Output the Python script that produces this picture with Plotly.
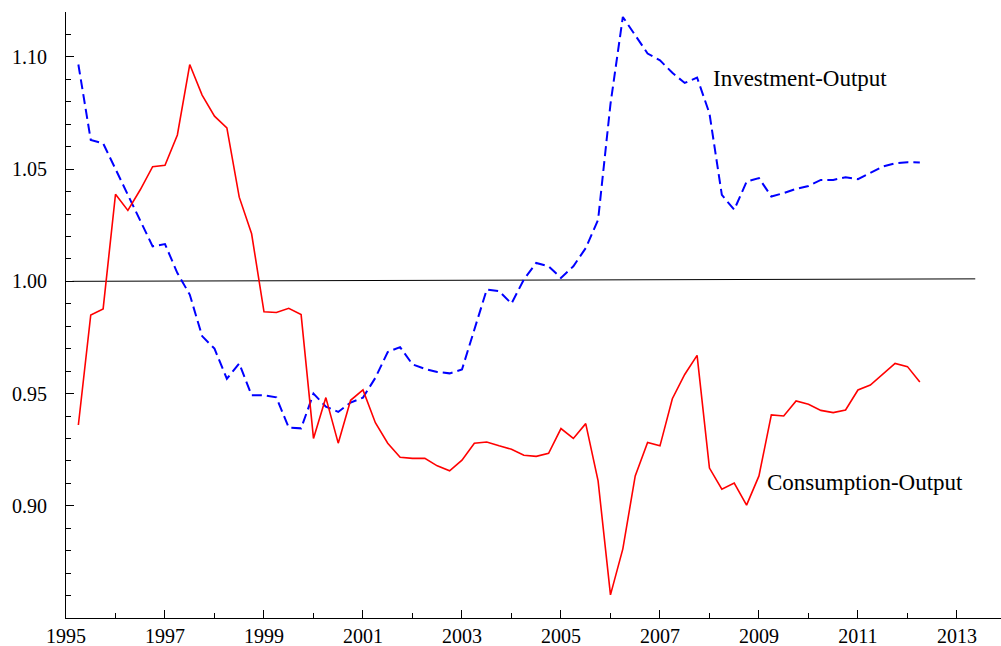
import plotly.graph_objects as go

# Quarterly observations 1995.25 .. 2012.25
quarters = [1995.25 + 0.25 * i for i in range(69)]

consumption_output = [
    0.936, 0.985, 0.9877, 1.0388, 1.0316, 1.0408, 1.0511, 1.0517,   # 1995.25-1997.0
    1.0652, 1.0966, 1.083, 1.0736, 1.0684, 1.0375, 1.0212, 0.9864,  # 1997.25-1999.0
    0.9861, 0.988, 0.9852, 0.930, 0.9482, 0.9279, 0.947, 0.9516,    # 1999.25-2001.0
    0.937, 0.9279, 0.9216, 0.9211, 0.9211, 0.9178, 0.9156, 0.9203,  # 2001.25-2003.0
    0.9279, 0.9284, 0.9267, 0.9252, 0.9225, 0.922, 0.9234, 0.9344,  # 2003.25-2005.0
    0.930, 0.9366, 0.9111, 0.8603, 0.8808, 0.9133, 0.9282, 0.9267,  # 2005.25-2007.0
    0.9477, 0.9585, 0.967, 0.9168, 0.9074, 0.9101, 0.9003, 0.9133,  # 2007.25-2009.0
    0.9405, 0.940, 0.9467, 0.9452, 0.9425, 0.9415, 0.9427, 0.9516,  # 2009.25-2011.0
    0.9538, 0.9585, 0.9634, 0.962, 0.9551,                          # 2011.25-2012.25
]

investment_output = [
    1.0966, 1.063, 1.0615, 1.050, 1.0385, 1.027, 1.0156, 1.0166,    # 1995.25-1997.0
    1.0037, 0.9941, 0.9756, 0.970, 0.9566, 0.9634, 0.9492, 0.9492,  # 1997.25-1999.0
    0.9483, 0.9348, 0.9345, 0.950, 0.9442, 0.9418, 0.946, 0.9482,   # 1999.25-2001.0
    0.957, 0.9685, 0.9707, 0.963, 0.961, 0.9596, 0.959, 0.9607,     # 2001.25-2003.0
    0.979, 0.9963, 0.9956, 0.9901, 1.0008, 1.0082, 1.0067, 1.0015,  # 2003.25-2005.0
    1.0067, 1.0148, 1.0274, 1.079, 1.1178, 1.1096, 1.1015, 1.0985,  # 2005.25-2007.0
    1.0929, 1.0884, 1.0908, 1.0748, 1.0385, 1.0319, 1.0444, 1.046,  # 2007.25-2009.0
    1.0378, 1.0393, 1.0412, 1.0425, 1.0452, 1.0452, 1.0464, 1.0455, # 2009.25-2011.0
    1.0482, 1.0511, 1.0526, 1.0531, 1.0529,                         # 2011.25-2012.25
]

reference_x = [1995.13, 2013.37]
reference_y = [1.0, 1.0011]

x_tickvals = [1995, 1997, 1999, 2001, 2003, 2005, 2007, 2009, 2011, 2013]
y_tickvals = [0.90, 0.95, 1.00, 1.05, 1.10]
y_ticktext = ["0.90", "0.95", "1.00", "1.05", "1.10"]

label_inv = "Investment-Output"
label_cons = "Consumption-Output"

FONT = "Liberation Serif, Times New Roman, serif"

fig = go.Figure()
fig.add_trace(go.Scatter(x=reference_x, y=reference_y, mode="lines",
                         line=dict(color="black", width=1), hoverinfo="skip"))
fig.add_trace(go.Scatter(x=quarters, y=investment_output, mode="lines",
                         line=dict(color="#0000ff", width=2, dash="10px,5px")))
fig.add_trace(go.Scatter(x=quarters, y=consumption_output, mode="lines",
                         line=dict(color="#ff0000", width=1.6)))

fig.add_annotation(x=2008.04, y=1.0905, text=label_inv, showarrow=False,
                   xanchor="left", yanchor="middle",
                   font=dict(family=FONT, size=23, color="black"))
fig.add_annotation(x=2009.12, y=0.9105, text=label_cons, showarrow=False,
                   xanchor="left", yanchor="middle",
                   font=dict(family=FONT, size=23, color="black"))

axis_common = dict(showgrid=False, zeroline=False, showline=True,
                   linecolor="black", linewidth=1, ticks="inside",
                   tickcolor="black", tickwidth=1, ticklen=8,
                   tickfont=dict(family=FONT, size=20, color="black"))

fig.update_xaxes(range=[1995, 2013.89], tickvals=x_tickvals,
                 ticktext=[str(v) for v in x_tickvals],
                 minor=dict(dtick=1, tick0=1995, ticks="inside", ticklen=5,
                            tickcolor="black", tickwidth=1),
                 **axis_common)
fig.update_yaxes(range=[0.85, 1.12], tickvals=y_tickvals, ticktext=y_ticktext,
                 minor=dict(dtick=0.01, tick0=0.85, ticks="inside", ticklen=5,
                            tickcolor="black", tickwidth=1),
                 ticklabelstandoff=14,
                 **axis_common)

fig.update_layout(width=1001, height=646, showlegend=False,
                  paper_bgcolor="white", plot_bgcolor="white",
                  margin=dict(l=66, r=0, t=12, b=28))

fig.write_html("out.html",
               config={"displayModeBar": False},
               post_script="document.body.style.margin='0px';document.body.style.overflow='hidden';")
